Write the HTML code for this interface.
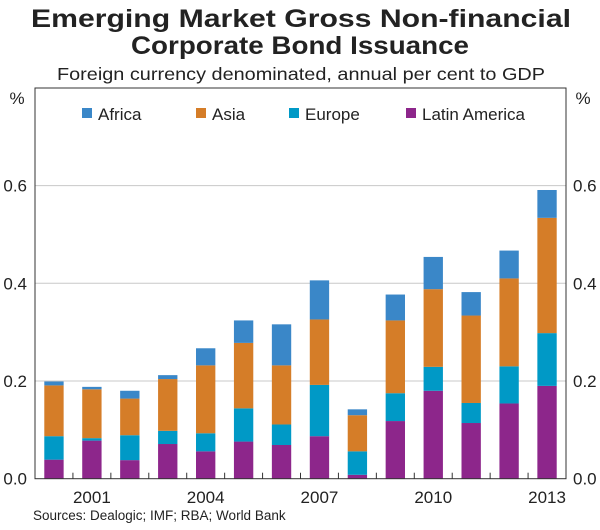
<!DOCTYPE html>
<html><head><meta charset="utf-8"><style>
body{margin:0;background:#fff;font-family:"Liberation Sans",Arial,sans-serif}
svg text{font-family:"Liberation Sans",Arial,sans-serif;fill:#222}
</style></head><body>
<svg width="600" height="525" viewBox="0 0 600 525" xmlns="http://www.w3.org/2000/svg">
<text x="301" y="27" text-anchor="middle" font-size="25" font-weight="bold" textLength="540" lengthAdjust="spacingAndGlyphs">Emerging Market Gross Non-financial</text>
<text x="300" y="54" text-anchor="middle" font-size="25" font-weight="bold" textLength="338" lengthAdjust="spacingAndGlyphs">Corporate Bond Issuance</text>
<text x="301" y="80" text-anchor="middle" font-size="17.5" textLength="488" lengthAdjust="spacingAndGlyphs">Foreign currency denominated, annual per cent to GDP</text>
<g id="grid"></g><g id="bars"></g>
<rect x="35" y="88" width="531" height="390.7" fill="none" stroke="#333" stroke-width="1"/>
<g id="axes"></g>
<text x="17" y="104" text-anchor="middle" font-size="17">%</text>
<text x="583" y="104" text-anchor="middle" font-size="17">%</text>
<g id="legend"></g>
<text x="33" y="520" font-size="13.5">Sources: Dealogic; IMF; RBA; World Bank</text>
</svg>
<script>
const years=[2000,2001,2002,2003,2004,2005,2006,2007,2008,2009,2010,2011,2012,2013];
const latam=[0.039,0.078,0.038,0.071,0.056,0.076,0.069,0.087,0.008,0.118,0.180,0.114,0.154,0.190];
const europe=[0.048,0.005,0.051,0.027,0.037,0.068,0.042,0.105,0.048,0.057,0.049,0.041,0.076,0.108];
const asia=[0.104,0.100,0.075,0.106,0.139,0.134,0.121,0.134,0.074,0.149,0.159,0.179,0.180,0.236];
const africa=[0.008,0.005,0.016,0.008,0.035,0.046,0.084,0.080,0.012,0.053,0.066,0.048,0.057,0.057];
const yTicks=[0,0.2,0.4,0.6];
const yTickLabels=["0.0","0.2","0.4","0.6"];
const xLabelYears=[2001,2004,2007,2010,2013];
const seriesNames=["Africa","Asia","Europe","Latin America"];
const NS="http://www.w3.org/2000/svg";
const X0=35,X1=566,Y0=478.7,PY=488.5;
const slot=(X1-X0)/years.length;
const xC=i=>X0+slot*(i+0.5);
const yS=v=>Y0-v*PY;
function mk(t,a,p){const e=document.createElementNS(NS,t);for(const k in a)e.setAttribute(k,a[k]);p.appendChild(e);return e;}
const grid=document.getElementById('grid'),bars=document.getElementById('bars'),axes=document.getElementById('axes'),leg=document.getElementById('legend');
yTicks.forEach((v,i)=>{
 if(v>0){const l=mk('line',{x1:X0,x2:X1,y1:yS(v),y2:yS(v),stroke:'#c8c8c8','stroke-width':1},grid);
 
 }
 const a=mk('text',{x:27,y:yS(v)+6,'text-anchor':'end','font-size':17},axes);a.textContent=yTickLabels[i];
 
 
 const b=mk('text',{x:573,y:yS(v)+6,'text-anchor':'start','font-size':17},axes);b.textContent=yTickLabels[i];
 
 
});
const series=[[latam,'#8d268b','latin-america'],[europe,'#0099c6','europe'],[asia,'#d57d28','asia'],[africa,'#3a87c8','africa']];
const bw=slot*0.51;
years.forEach((yr,i)=>{
 let base=0;
 series.forEach(([arr,col,nm])=>{
  const v=arr[i];
  const r=mk('rect',{x:xC(i)-bw/2,y:yS(base+v),width:bw,height:v*PY,fill:col},bars);
  
  
  base+=v;
 });
 if(i>0){const t=mk('line',{x1:X0+slot*i,x2:X0+slot*i,y1:Y0,y2:Y0-6,stroke:'#333','stroke-width':1},axes);
 
 }
 if(xLabelYears.includes(yr)){const t=mk('text',{x:xC(i),y:503,'text-anchor':'middle','font-size':17},axes);t.textContent=yr;
 
 }
});
const legX=[82,196,289,406],legC=['#3a87c8','#d57d28','#0099c6','#8d268b'];
seriesNames.forEach((n,i)=>{
 const g=mk('g',{},leg);
 
 
 mk('rect',{x:legX[i],y:108,width:10,height:10,fill:legC[i]},g);
 const t=mk('text',{x:legX[i]+16,y:120,'font-size':17},g);t.textContent=n;
});
</script>
</body></html>
